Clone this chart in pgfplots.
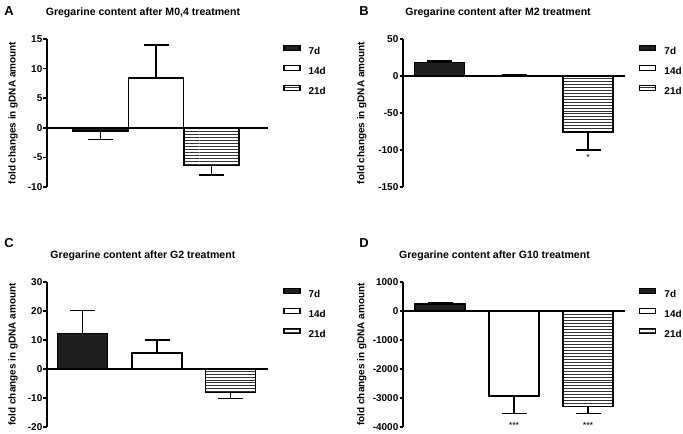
\documentclass[border=0pt]{standalone}
\usepackage{fontspec}
\setmainfont{Liberation Sans}
\usepackage{pgfplots}
\pgfplotsset{compat=1.18}
\usetikzlibrary{patterns}

\newcommand{\ff}{\bfseries\fontsize{10}{12}\selectfont}

\pgfplotsset{
  gp/.style={
    scale only axis,
    axis x line=middle, axis y line=left,
    axis line style={-, line width=1.5bp, black},
    xmin=0,
    xtick=\empty,
    tick align=outside,
    major tick length=3.5bp,
    ytick style={line width=1.5bp, black},
    hide obscured x ticks=false, hide obscured y ticks=false,
    /pgf/number format/assume math mode=true,
    /pgf/number format/1000 sep={},
    yticklabel style={font=\ff, inner sep=1bp},
    ylabel={fold changes in gDNA amount},
    ylabel style={font=\ff, anchor=center},
    title style={font=\bfseries\fontsize{10.6}{12}\selectfont, anchor=center},
    ybar, bar shift=0pt,
    legend image code/.code={\draw[##1, line width=1.3bp] (0bp,1.1bp) rectangle (16bp,6.1bp);},
    legend cell align=left,
    legend style={draw=none, fill=none, inner sep=0pt, font=\ff,
      anchor=north west, row sep=9bp, column sep=8bp,
      nodes={inner sep=0pt}},
  },
  s7/.style={fill=black!88, draw=black, line width=1.5bp},
  s14/.style={fill=white, draw=black, line width=1.5bp},
  s21/.style={pattern=horizontal lines, pattern color=black!80, draw=black, line width=1.5bp},
  eb/.style={error bars/.cd, y dir=#1, y explicit,
    error bar style={line width=1.5bp, black},
    error mark options={rotate=90, line width=1.5bp, black, mark size=12.5bp}},
}

\begin{document}
\begin{tikzpicture}
\useasboundingbox (0,0) rectangle (683bp,434bp);

% Panel A
\begin{axis}[gp, at={(47bp,247bp)}, anchor=south west,
  width=221bp, height=148bp, xmax=221,
  ymin=-10, ymax=15, ytick={-10,-5,0,5,10,15},
  bar width=55,
  ylabel style={at={(axis description cs:-0.154,0.5)}},
  title={Gregarine content after M0,4 treatment},
  title style={at={(axis description cs:0.434,1.135)}},
  legend style={at={(axis description cs:1.068,0.9635)}}]
\addplot[s7, eb=minus] coordinates {(53.5,-0.5) +- (0,1.5)};
\addplot[s14, eb=plus] coordinates {(109,8.45) +- (0,5.55)};
\addplot[s21, eb=minus] coordinates {(164.5,-6.4) +- (0,1.6)};
\legend{7d,14d,21d}
\end{axis}

% Panel B
\begin{axis}[gp, at={(403bp,247bp)}, anchor=south west,
  width=222bp, height=148bp, xmax=222,
  ymin=-150, ymax=50, ytick={-150,-100,-50,0,50},
  bar width=50,
  ylabel style={at={(axis description cs:-0.185,0.5)}},
  title={Gregarine content after M2 treatment},
  title style={at={(axis description cs:0.428,1.135)}},
  legend style={at={(axis description cs:1.063,0.9635)}}]
\addplot[s7, eb=plus] coordinates {(36.5,18) +- (0,2.3)};
\addplot[s14, eb=plus] coordinates {(111,0.3) +- (0,1)};
\addplot[s21, eb=minus] coordinates {(185,-75.5) +- (0,24.5)};
\legend{7d,14d,21d}
\node[anchor=base, yshift=-11bp, font=\fontsize{9}{9}\selectfont] at (axis cs:185,-100) {*};
\end{axis}

% Panel C
\begin{axis}[gp, at={(47bp,7bp)}, anchor=south west,
  width=221bp, height=145bp, xmax=221,
  ymin=-20, ymax=30, ytick={-20,-10,0,10,20,30},
  bar width=50,
  ylabel style={at={(axis description cs:-0.154,0.5)}},
  title={Gregarine content after G2 treatment},
  title style={at={(axis description cs:0.434,1.138)}},
  legend style={at={(axis description cs:1.068,0.963)}}]
\addplot[s7, eb=plus] coordinates {(35.5,12.2) +- (0,8)};
\addplot[s14, eb=plus] coordinates {(110,5.6) +- (0,4.4)};
\addplot[s21, eb=minus] coordinates {(183.5,-8.1) +- (0,2)};
\legend{7d,14d,21d}
\end{axis}

% Panel D
\begin{axis}[gp, at={(403bp,7bp)}, anchor=south west,
  width=222bp, height=145bp, xmax=222,
  ymin=-4000, ymax=1000, ytick={-4000,-3000,-2000,-1000,0,1000},
  bar width=50,
  ylabel style={at={(axis description cs:-0.185,0.5)}},
  title={Gregarine content after G10 treatment},
  title style={at={(axis description cs:0.412,1.138)}},
  legend style={at={(axis description cs:1.063,0.963)}}]
\addplot[s7, eb=plus] coordinates {(37,235) +- (0,40)};
\addplot[s14, eb=minus] coordinates {(111,-2930) +- (0,610)};
\addplot[s21, eb=minus] coordinates {(185,-3300) +- (0,240)};
\legend{7d,14d,21d}
\node[anchor=base, yshift=-15bp, font=\fontsize{9}{9}\selectfont] at (axis cs:111,-3540) {***};
\node[anchor=base, yshift=-15bp, font=\fontsize{9}{9}\selectfont] at (axis cs:185,-3540) {***};
\end{axis}

% Panel letters
\node[font=\bfseries\fontsize{13}{13}\selectfont] at (9bp,423bp) {A};
\node[font=\bfseries\fontsize{13}{13}\selectfont] at (364bp,423bp) {B};
\node[font=\bfseries\fontsize{13}{13}\selectfont] at (9bp,191bp) {C};
\node[font=\bfseries\fontsize{13}{13}\selectfont] at (364bp,191bp) {D};
\end{tikzpicture}
\end{document}
